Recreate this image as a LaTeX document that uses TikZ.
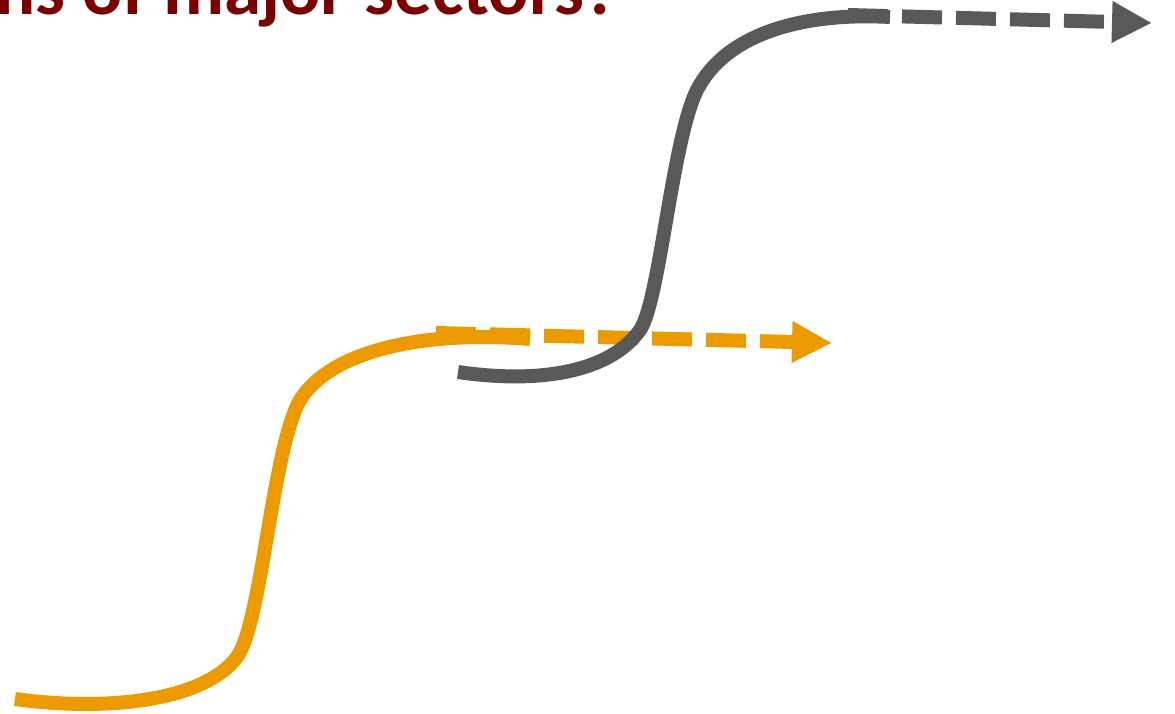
\documentclass[tikz,border=0pt]{standalone}
\usepackage{fontspec}
\newfontfamily\titlefont{Carlito}
\usetikzlibrary{arrows.meta}
\definecolor{curveorange}{RGB}{235,154,0}
\definecolor{curvegray}{RGB}{89,89,89}
\definecolor{titlered}{RGB}{122,0,0}
\tikzset{
  solidcurve/.style={line width=14pt, line cap=butt},
  dashedarrow/.style={line width=14pt, line cap=butt, dash pattern=on 40pt off 14pt,
     -{Triangle[length=40pt,width=39pt]}},
}
\begin{document}
\begin{tikzpicture}[x=1pt,y=-1pt]
\useasboundingbox (0,0) rectangle (1175,714);
\clip (0,0) rectangle (1175,714);
\node[anchor=base west, inner sep=0pt, text=titlered, font=\titlefont\bfseries\fontsize{75}{82}\selectfont] (title) at (-5,15) {ns of major sectors?};
% orange curve
\coordinate (o0) at (15,699);
\coordinate (o1) at (237,657);
\coordinate (o2) at (300,400);
\coordinate (o3) at (530,339);
\draw[solidcurve, curveorange] (o0) .. controls (110,712) and (205,700) .. (o1)
  .. controls (262,622) and (272,450) .. (o2)
  .. controls (330,352) and (420,330) .. (o3);
\coordinate (oa) at (436,333);
\coordinate (ob) at (832,343);
\draw[dashedarrow, curveorange] (oa) -- (ob);
% gray curve
\coordinate (g0) at (458,372);
\coordinate (g1) at (640,330);
\coordinate (g2) at (697,90);
\coordinate (g3) at (890,17);
\draw[solidcurve, curvegray] (g0) .. controls (540,384) and (610,372) .. (g1)
  .. controls (660,300) and (672,140) .. (g2)
  .. controls (725,35) and (800,12) .. (g3);
\coordinate (ga) at (848,15);
\coordinate (gb) at (1152,23);
\draw[dashedarrow, curvegray] (ga) -- (gb);
\end{tikzpicture}
\end{document}
